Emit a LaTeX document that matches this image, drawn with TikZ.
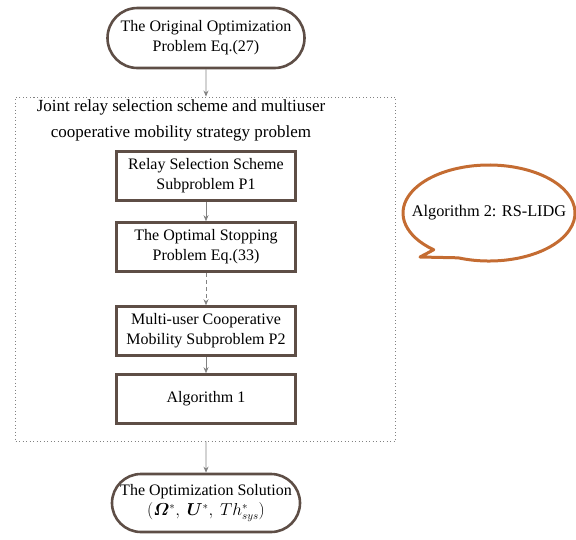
\documentclass[tikz,border=0pt]{standalone}
\usepackage{fontspec}
\setmainfont{Liberation Serif}
\usepackage{amsmath}
\usepackage{bm}
\usetikzlibrary{shapes.misc,arrows.meta}
\definecolor{boxbrown}{RGB}{94,78,70}
\definecolor{arrgray}{RGB}{130,130,130}
\definecolor{bubble}{RGB}{196,108,50}
\tikzset{
  term/.style={rounded rectangle, draw=boxbrown, line width=2.6pt, align=center,
    font=\fontsize{16}{20}\selectfont, inner sep=0pt},
  stepbox/.style={rectangle, draw=boxbrown, line width=2.6pt, align=center,
    minimum width=179pt, minimum height=49pt, inner sep=0pt,
    font=\fontsize{16}{20}\selectfont},
  conn/.style={draw=arrgray, line width=0.8pt, -{Stealth[length=6pt,width=5pt]}},
}
\begin{document}
\begin{tikzpicture}[x=1pt,y=-1pt]
\useasboundingbox (0,0) rectangle (576,539);
% dotted frame
\node[draw=arrgray, dash pattern=on 1pt off 2.5pt, line width=0.9pt, minimum width=380pt, minimum height=344pt, inner sep=0pt] (frame) at (205.5,269) {};
\node[align=center, font=\fontsize{17}{26}\selectfont] (title) at (181,120)
  {Joint relay selection scheme and multiuser\\cooperative mobility strategy problem};
% top and bottom terminals
\node[term, minimum width=197pt, minimum height=60pt] (orig) at (206,38)
  {The Original Optimization\\Problem Eq.(27)};
\node[term, minimum width=188pt, minimum height=58pt] (sol) at (206,503)
  {The Optimization Solution\\$(\bm{\varOmega}^{*},\ \bm{U}^{*},\ Th_{sys}^{*})$};
% steps
\node[stepbox] (p1) at (206,176) {Relay Selection Scheme\\Subproblem P1};
\node[stepbox] (stop) at (206,247) {The Optimal Stopping\\Problem Eq.(33)};
\node[stepbox] (p2) at (206,331) {Multi-user Cooperative\\Mobility Subproblem P2};
\node[stepbox] (alg1) at (206,399) {Algorithm 1};
% connectors
\draw[conn] (orig) -- (orig |- frame.north);
\draw[conn] (p1) -- (stop);
\draw[conn, dash pattern=on 4pt off 3pt] (stop) -- (p2);
\draw[conn] (p2) -- (alg1);
\draw[conn] (sol |- frame.south) -- (sol);
% speech bubble
\draw[draw=bubble, line width=3pt, line join=round]
  (489,213) ++(249:86 and -48) coordinate (bs)
  arc[start angle=249, end angle=590, x radius=86, y radius=-48]
  -- (420,257) -- cycle;
\node[font=\fontsize{16.3}{18}\selectfont] (alg2) at (489,213) {Algorithm 2: RS-LIDG};
\end{tikzpicture}
\end{document}
